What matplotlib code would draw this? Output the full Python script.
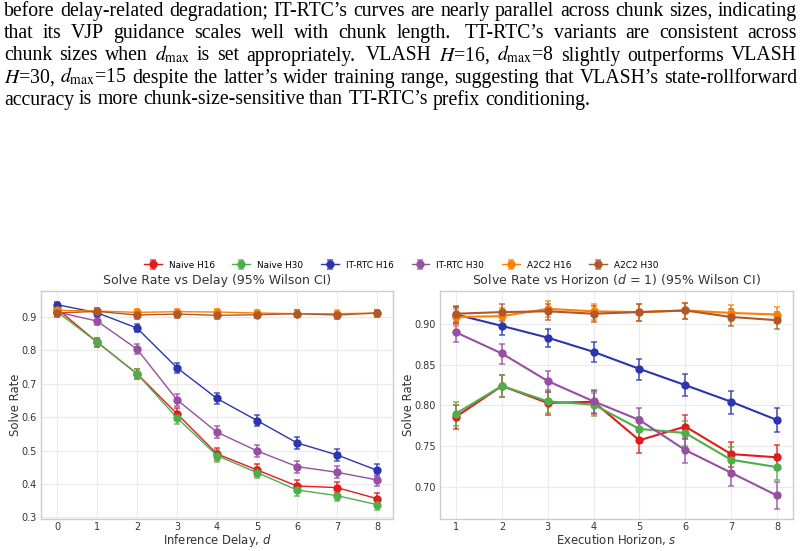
import numpy as np
import matplotlib
matplotlib.use("Agg")
import matplotlib.pyplot as plt

# paragraph text above the figure (as it appears in the page)
para_lines = [
    "before delay-related degradation; IT-RTC’s curves are nearly parallel across chunk sizes, indicating",
    "that its VJP guidance scales well with chunk length. TT-RTC’s variants are consistent across",
    "chunk sizes when $d_{\\max}$ is set appropriately. VLASH $H$=16, $d_{\\max}$=8 slightly outperforms VLASH",
    "$H$=30, $d_{\\max}$=15 despite the latter’s wider training range, suggesting that VLASH’s state-rollforward",
    "accuracy is more chunk-size-sensitive than TT-RTC’s prefix conditioning.",
]

methods = ["Naive H16", "Naive H30", "IT-RTC H16", "IT-RTC H30", "A2C2 H16", "A2C2 H30"]
colors = ["#e41a1c", "#4daf4a", "#2b35b0", "#984ea3", "#ff7f00", "#b0582a"]

# solve rate vs inference delay
delays = [0, 1, 2, 3, 4, 5, 6, 7, 8]
naive_h16_d = [0.925, 0.825, 0.730, 0.610, 0.490, 0.442, 0.394, 0.389, 0.356]
naive_h30_d = [0.916, 0.825, 0.730, 0.598, 0.485, 0.434, 0.382, 0.365, 0.338]
itrtc_h16_d = [0.937, 0.913, 0.867, 0.748, 0.656, 0.590, 0.523, 0.487, 0.441]
itrtc_h30_d = [0.915, 0.888, 0.804, 0.652, 0.555, 0.499, 0.452, 0.435, 0.412]
a2c2_h16_d = [0.920, 0.918, 0.914, 0.916, 0.915, 0.912, 0.910, 0.910, 0.912]
a2c2_h30_d = [0.912, 0.917, 0.906, 0.909, 0.905, 0.907, 0.910, 0.906, 0.912]

# solve rate vs execution horizon (d = 1)
horizons = [1, 2, 3, 4, 5, 6, 7, 8]
naive_h16_s = [0.786, 0.824, 0.803, 0.8045, 0.757, 0.774, 0.740, 0.736]
naive_h30_s = [0.790, 0.824, 0.805, 0.801, 0.771, 0.766, 0.733, 0.724]
itrtc_h16_s = [0.912, 0.898, 0.8835, 0.866, 0.845, 0.825, 0.8045, 0.782]
itrtc_h30_s = [0.890, 0.864, 0.830, 0.805, 0.782, 0.745, 0.717, 0.689]
a2c2_h16_s = [0.909, 0.910, 0.919, 0.916, 0.915, 0.917, 0.914, 0.912]
a2c2_h30_s = [0.913, 0.915, 0.916, 0.913, 0.915, 0.917, 0.909, 0.905]

n_episodes = 3000  # episodes per point, used for the Wilson interval


def wilson_err(p, n, z=1.96):
    p = np.asarray(p)
    denom = 1 + z**2 / n
    centre = (p + z**2 / (2 * n)) / denom
    half = z * np.sqrt(p * (1 - p) / n + z**2 / (4 * n**2)) / denom
    return np.vstack([p - (centre - half), (centre + half) - p])


def draw_paragraph(fig, lines, x0, x1, baselines, size):
    renderer = fig.canvas.get_renderer()
    W, H = fig.bbox.width, fig.bbox.height
    for i, (line, yb) in enumerate(zip(lines, baselines)):
        words = line.split()
        texts = [fig.text(0, 0, w, fontsize=size, family="Liberation Serif",
                          math_fontfamily="stix", va="baseline", ha="left", color="black")
                 for w in words]
        widths = [t.get_window_extent(renderer).width for t in texts]
        weights = [1.5 if w.endswith(".") and j < len(words) - 1 else 1.0
                   for j, w in enumerate(words)][:-1]
        if i < len(lines) - 1:
            gap = (x1 - x0 - sum(widths)) / sum(weights)
        else:
            gap = size * 100 / 72 * 0.25
        x = x0
        for j, (t, w) in enumerate(zip(texts, widths)):
            t.set_position((x / W, 1 - yb / H))
            if j < len(weights):
                x += w + gap * weights[j]


def style_axes(ax):
    ax.set_facecolor("white")
    for s in ax.spines.values():
        s.set_color("#cccccc")
        s.set_linewidth(1.0)
    ax.grid(True, color="#ebebeb", linewidth=0.8)
    ax.set_axisbelow(True)
    ax.tick_params(length=0, labelsize=7, labelcolor="#333333")
    ax.tick_params(axis="x", pad=2.5)
    ax.tick_params(axis="y", pad=3)


fig = plt.figure(figsize=(8.04, 5.51), dpi=100)
fig.patch.set_facecolor("white")

draw_paragraph(fig, para_lines, 4, 797, [16, 38, 60.5, 82.5, 104.5], 14.2)

ax1 = fig.add_axes([41 / 804, 1 - 519 / 551, 352 / 804, 228 / 551])
ax2 = fig.add_axes([440 / 804, 1 - 519 / 551, 353 / 804, 228 / 551])

series_d = [naive_h16_d, naive_h30_d, itrtc_h16_d, itrtc_h30_d, a2c2_h16_d, a2c2_h30_d]
series_s = [naive_h16_s, naive_h30_s, itrtc_h16_s, itrtc_h30_s, a2c2_h16_s, a2c2_h30_s]

handles = []
for name, c, yd, ys in zip(methods, colors, series_d, series_s):
    h = ax1.errorbar(delays, yd, yerr=wilson_err(yd, n_episodes), color=c, marker="o",
                     markersize=5, linewidth=1.0, elinewidth=1.3, capsize=2.5,
                     capthick=1.2, label=name)
    for art in list(h[1]) + list(h[2]):
        art.set_alpha(0.75)
    handles.append(h)
    h2 = ax2.errorbar(horizons, ys, yerr=wilson_err(ys, n_episodes), color=c, marker="o",
                      markersize=5, linewidth=1.5, elinewidth=1.3, capsize=2.5,
                      capthick=1.2, label=name)
    for art in list(h2[1]) + list(h2[2]):
        art.set_alpha(0.75)

style_axes(ax1)
ax1.set_xlim(-0.4, 8.4)
ax1.set_ylim(0.295, 0.978)
ax1.set_xticks(delays)
ax1.set_yticks([0.3, 0.4, 0.5, 0.6, 0.7, 0.8, 0.9])
ax1.set_xlabel("Inference Delay, $d$", fontsize=8.4, color="#333333", labelpad=0)
ax1.set_ylabel("Solve Rate", fontsize=8.4, color="#333333", labelpad=-0.5)
ax1.set_title("Solve Rate vs Delay (95% Wilson CI)", fontsize=9, color="#333333", pad=5)

style_axes(ax2)
ax2.set_xlim(0.65, 8.35)
ax2.set_ylim(0.660, 0.941)
ax2.set_xticks(horizons)
ax2.set_yticks([0.70, 0.75, 0.80, 0.85, 0.90])
ax2.yaxis.set_major_formatter(matplotlib.ticker.FormatStrFormatter("%.2f"))
ax2.set_xlabel("Execution Horizon, $s$", fontsize=8.4, color="#333333", labelpad=0)
ax2.set_ylabel("Solve Rate", fontsize=8.4, color="#333333", labelpad=-0.5)
ax2.set_title("Solve Rate vs Horizon ($d$ = 1) (95% Wilson CI)", fontsize=9,
              color="#333333", pad=5)

fig.legend(handles, methods, loc="center", bbox_to_anchor=(401 / 804, 1 - 265 / 551),
           ncol=6, frameon=False, fontsize=6.4, handlelength=2.0, columnspacing=2.0,
           handletextpad=0.8)

fig.savefig("out.png", dpi=100, facecolor="white")
